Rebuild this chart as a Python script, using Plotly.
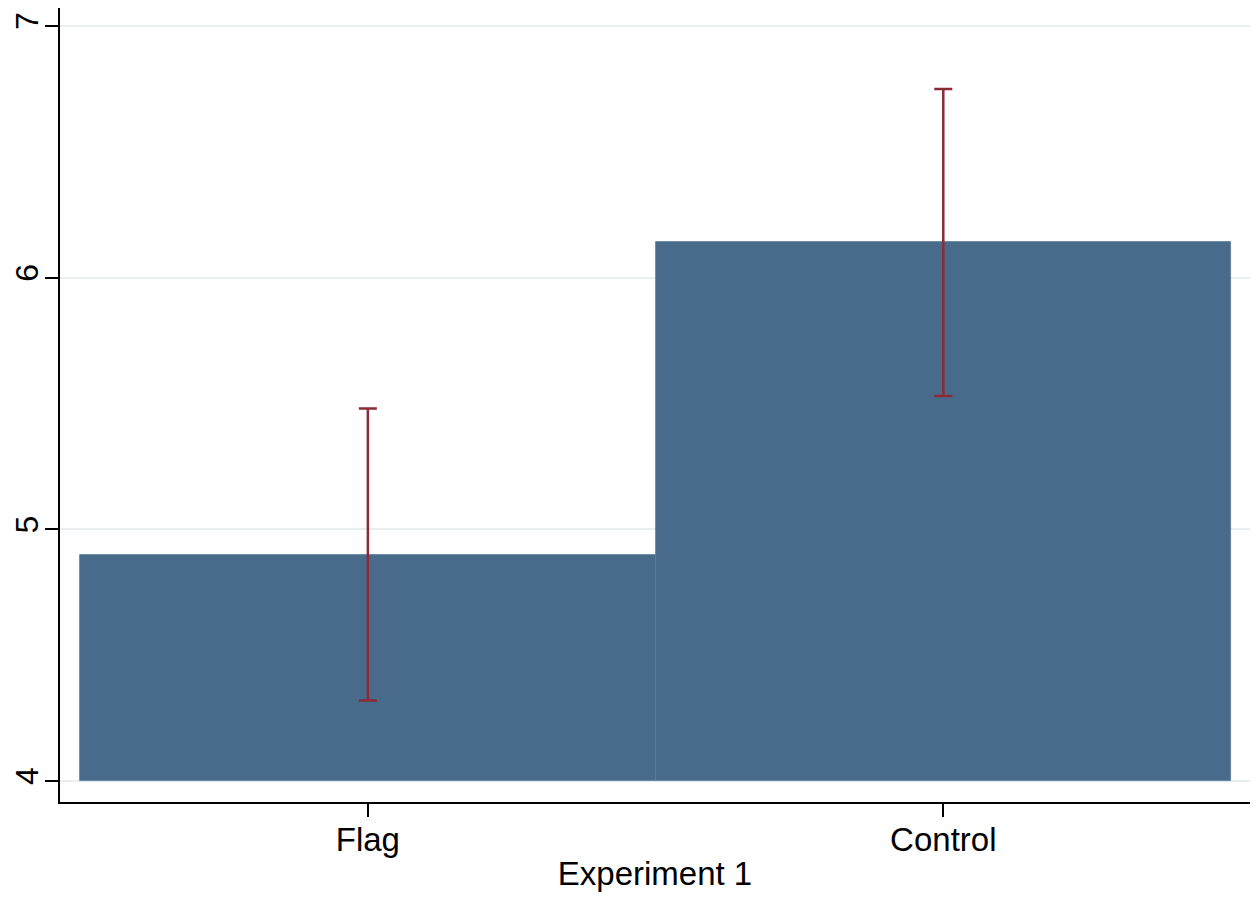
import plotly.graph_objects as go

categories = ["Flag", "Control"]
means = [4.90, 6.14]
ci_low = [4.32, 5.53]
ci_high = [5.48, 6.75]
y_ticks = [4, 5, 6, 7]
x_title = "Experiment 1"
baseline = 4

xpos = list(range(len(categories)))

fig = go.Figure()
fig.add_trace(go.Bar(
    x=xpos,
    y=[m - baseline for m in means],
    base=baseline,
    width=1.0,
    marker=dict(color="#486b8b", line=dict(color="#5b7c99", width=0.8)),
    showlegend=False,
))
fig.add_trace(go.Scatter(
    x=xpos,
    y=means,
    mode="markers",
    marker=dict(size=0.1, color="rgba(0,0,0,0)"),
    error_y=dict(
        type="data",
        symmetric=False,
        array=[h - m for h, m in zip(ci_high, means)],
        arrayminus=[m - l for m, l in zip(means, ci_low)],
        color="#8c2a3a",
        thickness=2.5,
        width=9,
    ),
    showlegend=False,
))

fig.update_layout(
    width=1242,
    height=884,
    margin=dict(l=52, r=0, t=0, b=90),
    plot_bgcolor="white",
    paper_bgcolor="white",
    font=dict(family="Liberation Sans, Arial, sans-serif", color="black", size=33),
    bargap=0,
)
fig.update_xaxes(
    range=[-0.535, 1.533],
    tickvals=xpos,
    ticktext=categories,
    ticks="outside",
    ticklen=13,
    tickwidth=1.5,
    tickcolor="black",
    showline=True,
    linecolor="black",
    linewidth=2,
    showgrid=False,
    zeroline=False,
    automargin=False,
    ticklabelstandoff=-6,
    title=dict(text=x_title, font=dict(size=33), standoff=11),
    tickfont=dict(size=33),
)
fig.update_yaxes(
    range=[3.9166, 7.0715],
    tickvals=y_ticks,
    ticks="outside",
    ticklen=13,
    tickwidth=1.5,
    tickcolor="black",
    tickangle=-90,
    showline=True,
    linecolor="black",
    linewidth=2,
    showgrid=True,
    gridcolor="#e9eef1",
    gridwidth=2,
    zeroline=False,
    automargin=False,
    ticklabelstandoff=-6,
    tickfont=dict(size=32),
)

fig.write_html("out.html")
